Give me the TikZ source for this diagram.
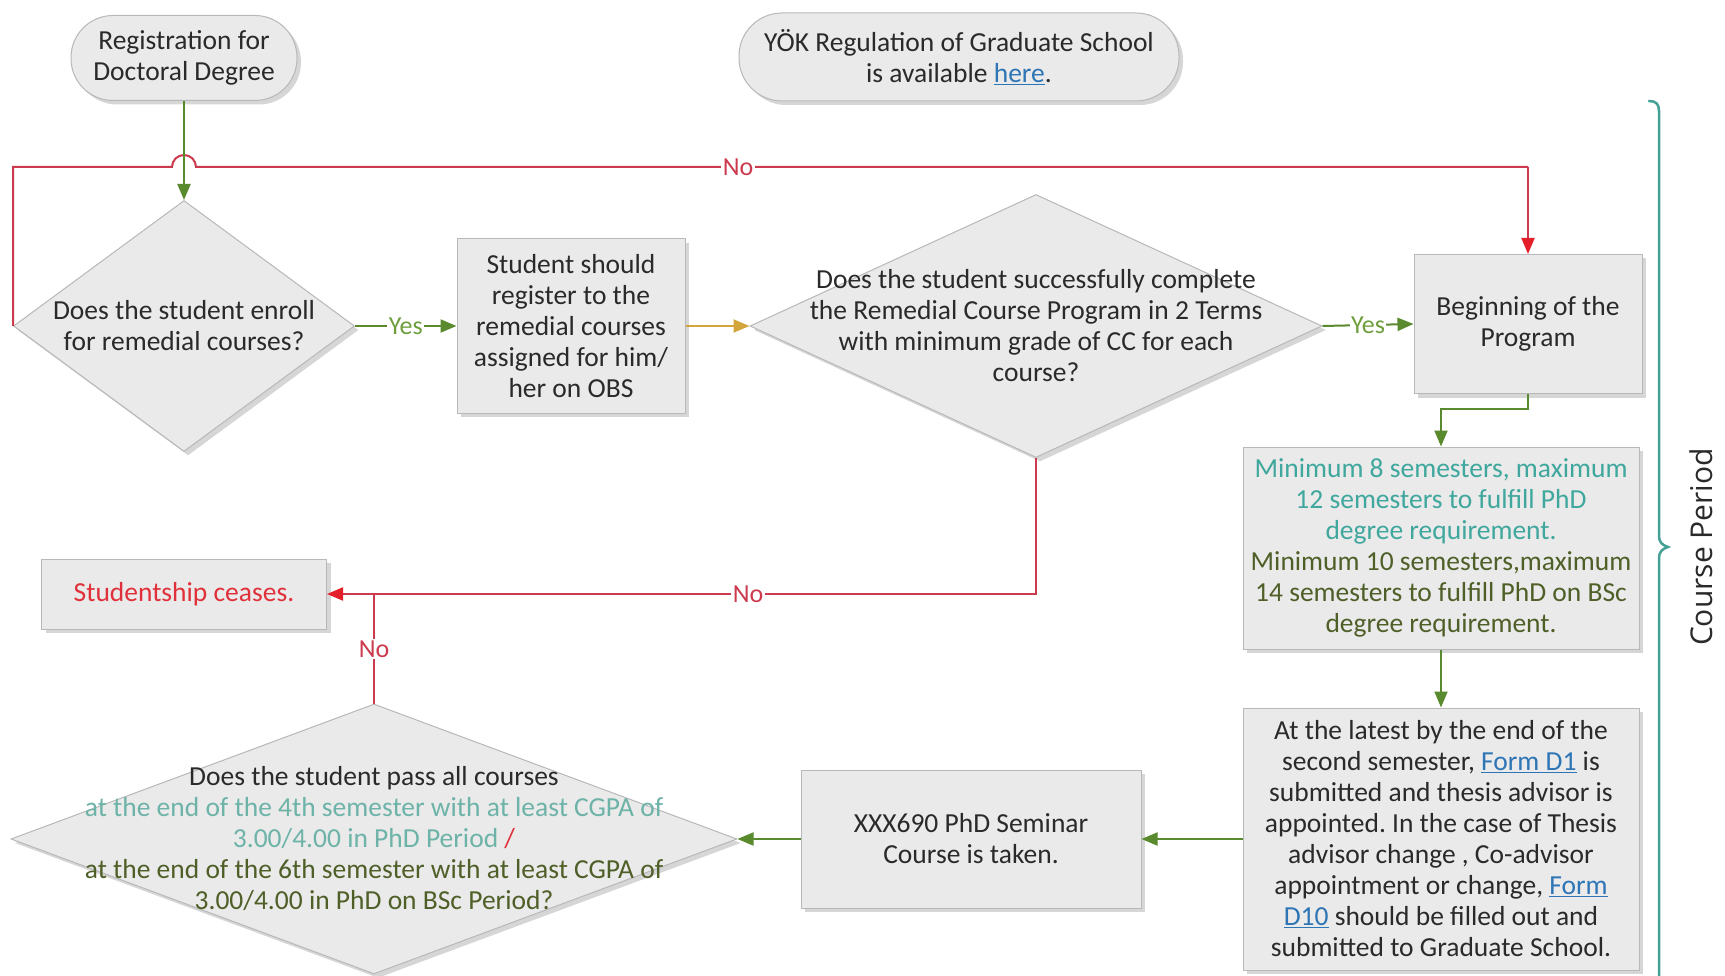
\documentclass[tikz,border=0pt]{standalone}
\usepackage{fontspec}
\setmainfont{Carlito}
\newfontfamily\periodfont{Open Sans}
\usetikzlibrary{arrows.meta,shapes.geometric,shadows}

\definecolor{ink}{HTML}{2A2A2A}
\definecolor{boxfill}{HTML}{EAEAEA}
\definecolor{boxline}{HTML}{B8B8B8}
\definecolor{flowgreen}{HTML}{5A8A2E}
\definecolor{yesgreen}{HTML}{6E9E3C}
\definecolor{flowred}{HTML}{CC3A4E}
\definecolor{tipred}{HTML}{E3202A}
\definecolor{flowgold}{HTML}{D4A53A}
\definecolor{tealtxt}{HTML}{3FA79D}
\definecolor{tealsoft}{HTML}{6DB3A8}
\definecolor{olivetxt}{HTML}{4F5F28}
\definecolor{linkblue}{HTML}{2E75B6}
\definecolor{bracecol}{HTML}{45A096}
\definecolor{stopred}{HTML}{E0303A}

\newcommand\flowfont{\fontsize{27.5}{31}\selectfont}
\newcommand\tagfont{\fontsize{26}{30}\selectfont}
\newcommand\lnk[1]{\textcolor{linkblue}{\underline{#1}}}
\frenchspacing

\tikzset{
  shaded/.style={draw=boxline, fill=boxfill, line width=1pt,
    drop shadow={shadow xshift=4pt, shadow yshift=-4pt, opacity=0.35, fill=black!45}},
  procbox/.style={shaded, rectangle, inner sep=0pt, align=center, text=ink, font=\flowfont},
  termbox/.style={shaded, rectangle, inner sep=0pt, align=center, text=ink, font=\flowfont},
  decision/.style={shaded, diamond, inner sep=0pt},
  dtext/.style={align=center, text=ink, font=\flowfont, inner sep=0pt},
  tip/.style={-{Triangle[length=16pt,width=13pt]}},
  flowg/.style={draw=flowgreen, line width=2pt, tip},
  flowy/.style={draw=flowgold, line width=2pt, tip},
  flowr/.style={draw=flowred, line width=2pt, -{Triangle[length=16pt,width=13pt,color=tipred]}},
  flowrplain/.style={draw=flowred, line width=2pt},
  lbl/.style={fill=white, inner sep=1.5pt, font=\tagfont},
  yeslbl/.style={lbl, text=yesgreen},
  nolbl/.style={lbl, text=flowred},
}

\begin{document}
\begin{tikzpicture}[x=1pt, y=-1pt]
  \fill[white] (0,0) rectangle (1725,976);
  \useasboundingbox (0,0) rectangle (1725,976);

  % terminals
  \node[termbox, rounded corners=42pt, minimum width=226pt, minimum height=85pt] (t1) at (184,58)
    {Registration for\\Doctoral Degree};
  \node[termbox, rounded corners=43pt, minimum width=440pt, minimum height=88pt] (t2) at (959,57)
    {YÖK Regulation of Graduate School\\is available \lnk{here}.};

  % decisions
  \node[decision, minimum width=341pt, minimum height=251pt] (d1) at (184,326) {};
  \node[dtext] (d1t) at (d1.center) {Does the student enroll\\for remedial courses?};

  \node[decision, minimum width=572pt, minimum height=263pt] (d2) at (1036,326) {};
  \node[dtext] (d2t) at (d2.center) {Does the student successfully complete\\the Remedial Course Program in 2 Terms\\with minimum grade of CC for each\\course?};

  \node[decision, minimum width=726pt, minimum height=270pt] (d3) at (374,839) {};
  \node[dtext] (d3t) at (d3.center) {Does the student pass all courses\\
    {\color{tealsoft}at the end of the 4th semester with at least CGPA of}\\
    {\color{tealsoft}3.00/4.00 in PhD Period} {\color{stopred}/}\\
    {\color{olivetxt}at the end of the 6th semester with at least CGPA of}\\
    {\color{olivetxt}3.00/4.00 in PhD on BSc Period?}};

  % process boxes
  \node[procbox, minimum width=228pt, minimum height=174pt] (b2) at (571,326)
    {Student should\\register to the\\remedial courses\\assigned for him/\\her on OBS};
  \node[procbox, minimum width=228pt, minimum height=139pt] (beg) at (1528,324)
    {Beginning of the\\Program};
  \node[procbox, minimum width=396pt, minimum height=202pt] (b4) at (1441,548)
    {{\color{tealtxt}Minimum 8 semesters, maximum}\\
     {\color{tealtxt}12 semesters to fulfill PhD}\\
     {\color{tealtxt}degree requirement.}\\
     {\color{olivetxt}Minimum 10 semesters,maximum}\\
     {\color{olivetxt}14 semesters to fulfill PhD on BSc}\\
     {\color{olivetxt}degree requirement.}};
  \node[procbox, minimum width=396pt, minimum height=262pt] (b5) at (1441,839)
    {At the latest by the end of the\\
     second semester, \lnk{Form D1} is\\
     submitted and thesis advisor is\\
     appointed. In the case of Thesis\\
     advisor change , Co-advisor\\
     appointment or change, \lnk{Form}\\
     \lnk{D10} should be filled out and\\
     submitted to Graduate School.};
  \node[procbox, minimum width=340pt, minimum height=138pt] (b6) at (971,839)
    {XXX690 PhD Seminar\\Course is taken.};
  \node[procbox, minimum width=285pt, minimum height=70pt, text=stopred] (stop) at (184,594)
    {Studentship ceases.};

  % connectors
  \draw[flowrplain] (d1.west) |- (172,167) arc[start angle=180, end angle=360, radius=12]
    -- node[nolbl, pos=0.407] {No} (1528,167);
  \draw[flowr] (1528,167) -- (beg.north);
  \draw[flowg] (t1.south) -- (d1.north);
  \draw[flowg] (d1.east) -- node[yeslbl] {Yes} (b2.west);
  \draw[flowy] (b2.east) -- (d2.west);
  \draw[flowg] (d2.east) -- node[yeslbl] {Yes} (beg.west);
  \draw[flowg] (beg.south) -- ++(0,15) -| (b4.north);
  \draw[flowg] (b4.south) -- (b5.north);
  \draw[flowg] (b5.west) -- (b6.east);
  \draw[flowg] (b6.west) -- (d3.east);
  \draw[flowr] (d2.south) |- node[nolbl, pos=0.703] {No} (stop.east);
  \coordinate (join) at (374,594);
  \draw[flowrplain] (d3.north) -- node[nolbl] {No} (join);

  % course period brace
  \draw[bracecol, line width=2.5pt, line cap=round]
    (1649,101) .. controls (1656,101) and (1659,104) .. (1659,111)
    -- (1659,536) .. controls (1659,542) and (1662,545) .. (1668,547)
    .. controls (1662,549) and (1659,552) .. (1659,558) -- (1659,980);
  \node[rotate=90, text=ink, font=\periodfont\fontsize{30}{36}\selectfont] (period) at (1701,547) {Course Period};
\end{tikzpicture}
\end{document}
